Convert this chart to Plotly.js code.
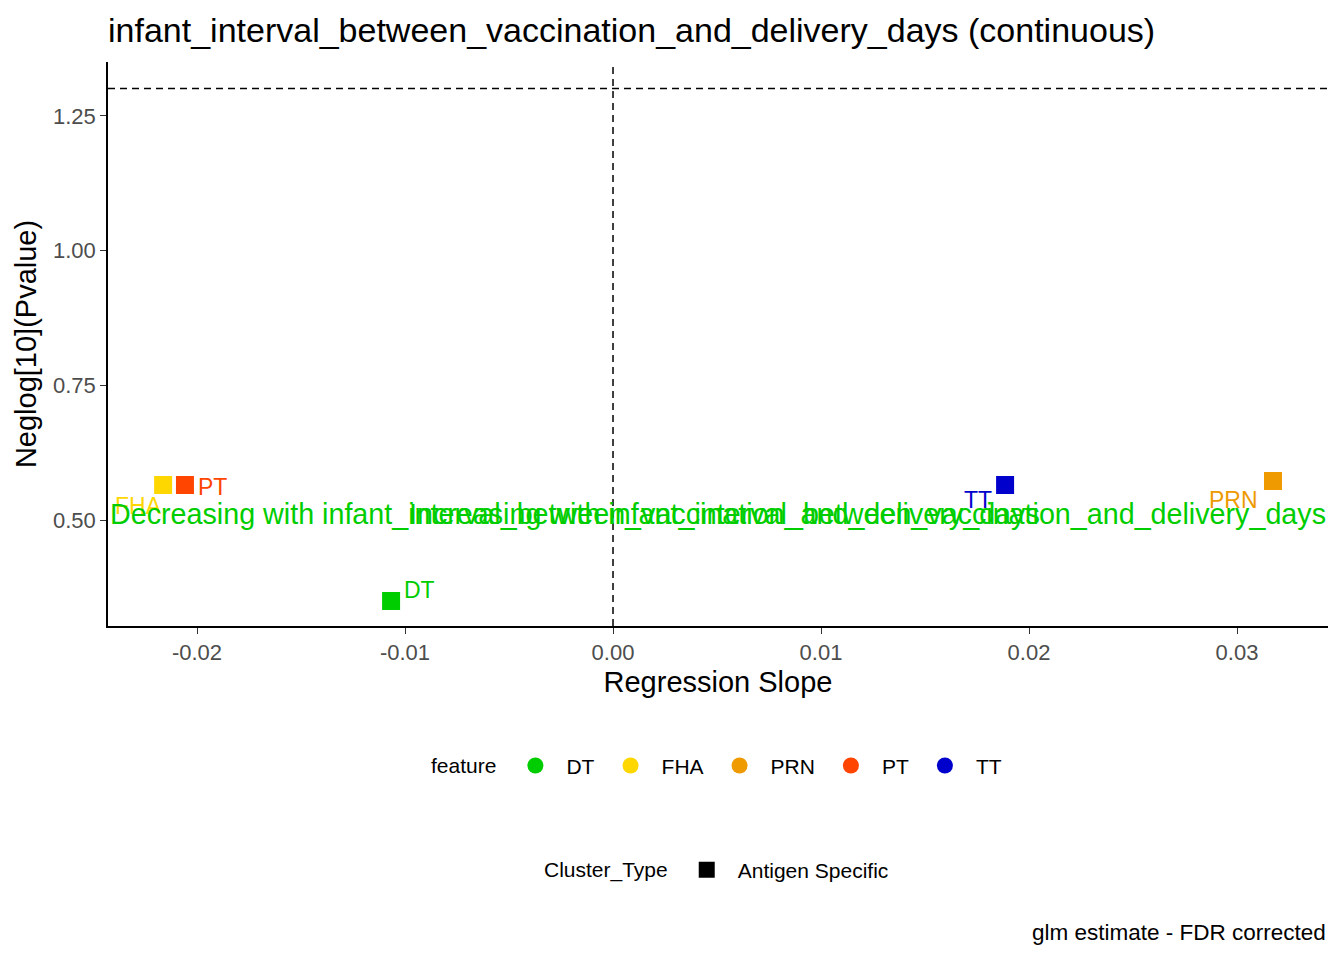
<!DOCTYPE html>
<html>
<head>
<meta charset="utf-8">
<script src="https://cdn.plot.ly/plotly-3.0.1.min.js"></script>
<style>
  body { margin: 0; background: #fff; }
  #chart { width: 1344px; height: 960px; }
</style>
</head>
<body>
<div id="chart"></div>
<script>
// values
var features = ['DT', 'FHA', 'PRN', 'PT', 'TT'];
var slopes = [-0.01067, -0.02163, 0.03173, -0.02058, 0.01885];
var neglogP = [0.3497, 0.565, 0.5724, 0.565, 0.565];
var featureColors = ['#00CD00', '#FFD700', '#EE9A00', '#FF4500', '#0000CD'];
var clusterTypes = ['Antigen Specific'];

var xTickVals = [-0.02, -0.01, 0.00, 0.01, 0.02, 0.03];
var xTickText = ['-0.02', '-0.01', '0.00', '0.01', '0.02', '0.03'];
var yTickVals = [0.50, 0.75, 1.00, 1.25];
var yTickText = ['0.50', '0.75', '1.00', '1.25'];

var sigLine = -Math.log10(0.05);
var varName = 'infant_interval_between_vaccination_and_delivery_days';

// label offsets (px) so the names sit beside their squares, like ggrepel did
var labelShift = {
  DT:  [28, 11],
  FHA: [-25, -21],
  PRN: [-39, -19],
  PT:  [28, -2],
  TT:  [-27, -15]
};

var FONT = 'Liberation Sans, Arial, sans-serif';

var traces = [];
features.forEach(function (f, i) {
  traces.push({
    x: [slopes[i]],
    y: [neglogP[i]],
    type: 'scatter',
    mode: 'markers',
    name: f,
    showlegend: false,
    marker: { symbol: 'square', size: 18, color: featureColors[i] },
    hoverinfo: 'x+y+name'
  });
});

// legend entries (circles by feature, square for cluster type)
features.forEach(function (f, i) {
  traces.push({
    x: [null],
    y: [null],
    type: 'scatter',
    mode: 'markers',
    name: f,
    legend: 'legend',
    marker: { symbol: 'circle', size: 18, color: featureColors[i] },
    hoverinfo: 'skip'
  });
});
traces.push({
  x: [null],
  y: [null],
  type: 'scatter',
  mode: 'markers',
  name: clusterTypes[0],
  legend: 'legend2',
  marker: { symbol: 'square', size: 18, color: '#000000' },
  hoverinfo: 'skip'
});

var annotations = [];
features.forEach(function (f, i) {
  annotations.push({
    x: slopes[i],
    y: neglogP[i],
    xref: 'x',
    yref: 'y',
    text: f,
    showarrow: false,
    xshift: labelShift[f][0],
    yshift: labelShift[f][1],
    font: { family: FONT, size: 23, color: featureColors[i] }
  });
});
annotations.push({
  x: 0, xref: 'paper', xanchor: 'left',
  y: 0.511, yref: 'y', yanchor: 'middle',
  text: 'Decreasing with ' + varName,
  showarrow: false,
  font: { family: FONT, size: 28.7, color: '#00CD00' }
});
annotations.push({
  x: 1, xref: 'paper', xanchor: 'right',
  y: 0.511, yref: 'y', yanchor: 'middle',
  text: 'Increasing with ' + varName,
  showarrow: false,
  font: { family: FONT, size: 28.7, color: '#00CD00' }
});
annotations.push({
  x: 1, xref: 'paper', xanchor: 'right',
  y: -0.544, yref: 'paper', yanchor: 'middle',
  text: 'glm estimate - FDR corrected',
  showarrow: false,
  font: { family: FONT, size: 22.5, color: '#000000' }
});

var layout = {
  width: 1344,
  height: 960,
  margin: { l: 108, r: 16, t: 62, b: 334 },
  paper_bgcolor: '#ffffff',
  plot_bgcolor: '#ffffff',
  font: { family: FONT, color: '#000000' },
  title: {
    text: varName + ' (continuous)',
    x: 0, xref: 'paper', xanchor: 'left',
    y: 1 - 30 / 960, yref: 'container', yanchor: 'middle',
    font: { family: FONT, size: 34, color: '#000000' }
  },
  xaxis: {
    range: [-0.02428, 0.034375],
    tickvals: xTickVals,
    ticktext: xTickText,
    showgrid: false,
    zeroline: false,
    showline: true,
    linecolor: '#000000',
    linewidth: 1.5,
    ticks: 'outside',
    ticklen: 6,
    tickwidth: 1.2,
    tickcolor: '#333333',
    tickfont: { family: FONT, size: 22, color: '#4D4D4D' },
    title: { text: 'Regression Slope', standoff: 8, font: { family: FONT, size: 29, color: '#000000' } }
  },
  yaxis: {
    range: [0.3033, 1.350],
    tickvals: yTickVals,
    ticktext: yTickText,
    showgrid: false,
    zeroline: false,
    showline: true,
    linecolor: '#000000',
    linewidth: 1.5,
    ticks: 'outside',
    ticklen: 6,
    tickwidth: 1.2,
    tickcolor: '#333333',
    tickfont: { family: FONT, size: 22, color: '#4D4D4D' },
    title: { text: 'Neglog[10](Pvalue)', standoff: 8, font: { family: FONT, size: 29, color: '#000000' } }
  },
  shapes: [
    { type: 'line', xref: 'x', yref: 'paper', x0: 0, x1: 0, y0: 0, y1: 1,
      line: { color: '#000000', width: 1.5, dash: '7px,5px' } },
    { type: 'line', xref: 'paper', yref: 'y', x0: 0, x1: 1, y0: sigLine, y1: sigLine,
      line: { color: '#000000', width: 1.5, dash: '7px,5px' } }
  ],
  annotations: annotations,
  legend: {
    orientation: 'h',
    x: 0.5, xanchor: 'center',
    y: -0.248, yanchor: 'middle',
    itemwidth: 52,
    title: { text: 'feature', side: 'left', font: { family: FONT, size: 21, color: '#000000' } },
    font: { family: FONT, size: 21, color: '#000000' },
    bgcolor: 'rgba(0,0,0,0)'
  },
  legend2: {
    orientation: 'h',
    x: 0.5, xanchor: 'center',
    y: -0.433, yanchor: 'middle',
    itemwidth: 52,
    title: { text: 'Cluster_Type', side: 'left', font: { family: FONT, size: 21, color: '#000000' } },
    font: { family: FONT, size: 21, color: '#000000' },
    bgcolor: 'rgba(0,0,0,0)'
  },
  hovermode: 'closest'
};

Plotly.newPlot('chart', traces, layout, { displayModeBar: false });
</script>
</body>
</html>
